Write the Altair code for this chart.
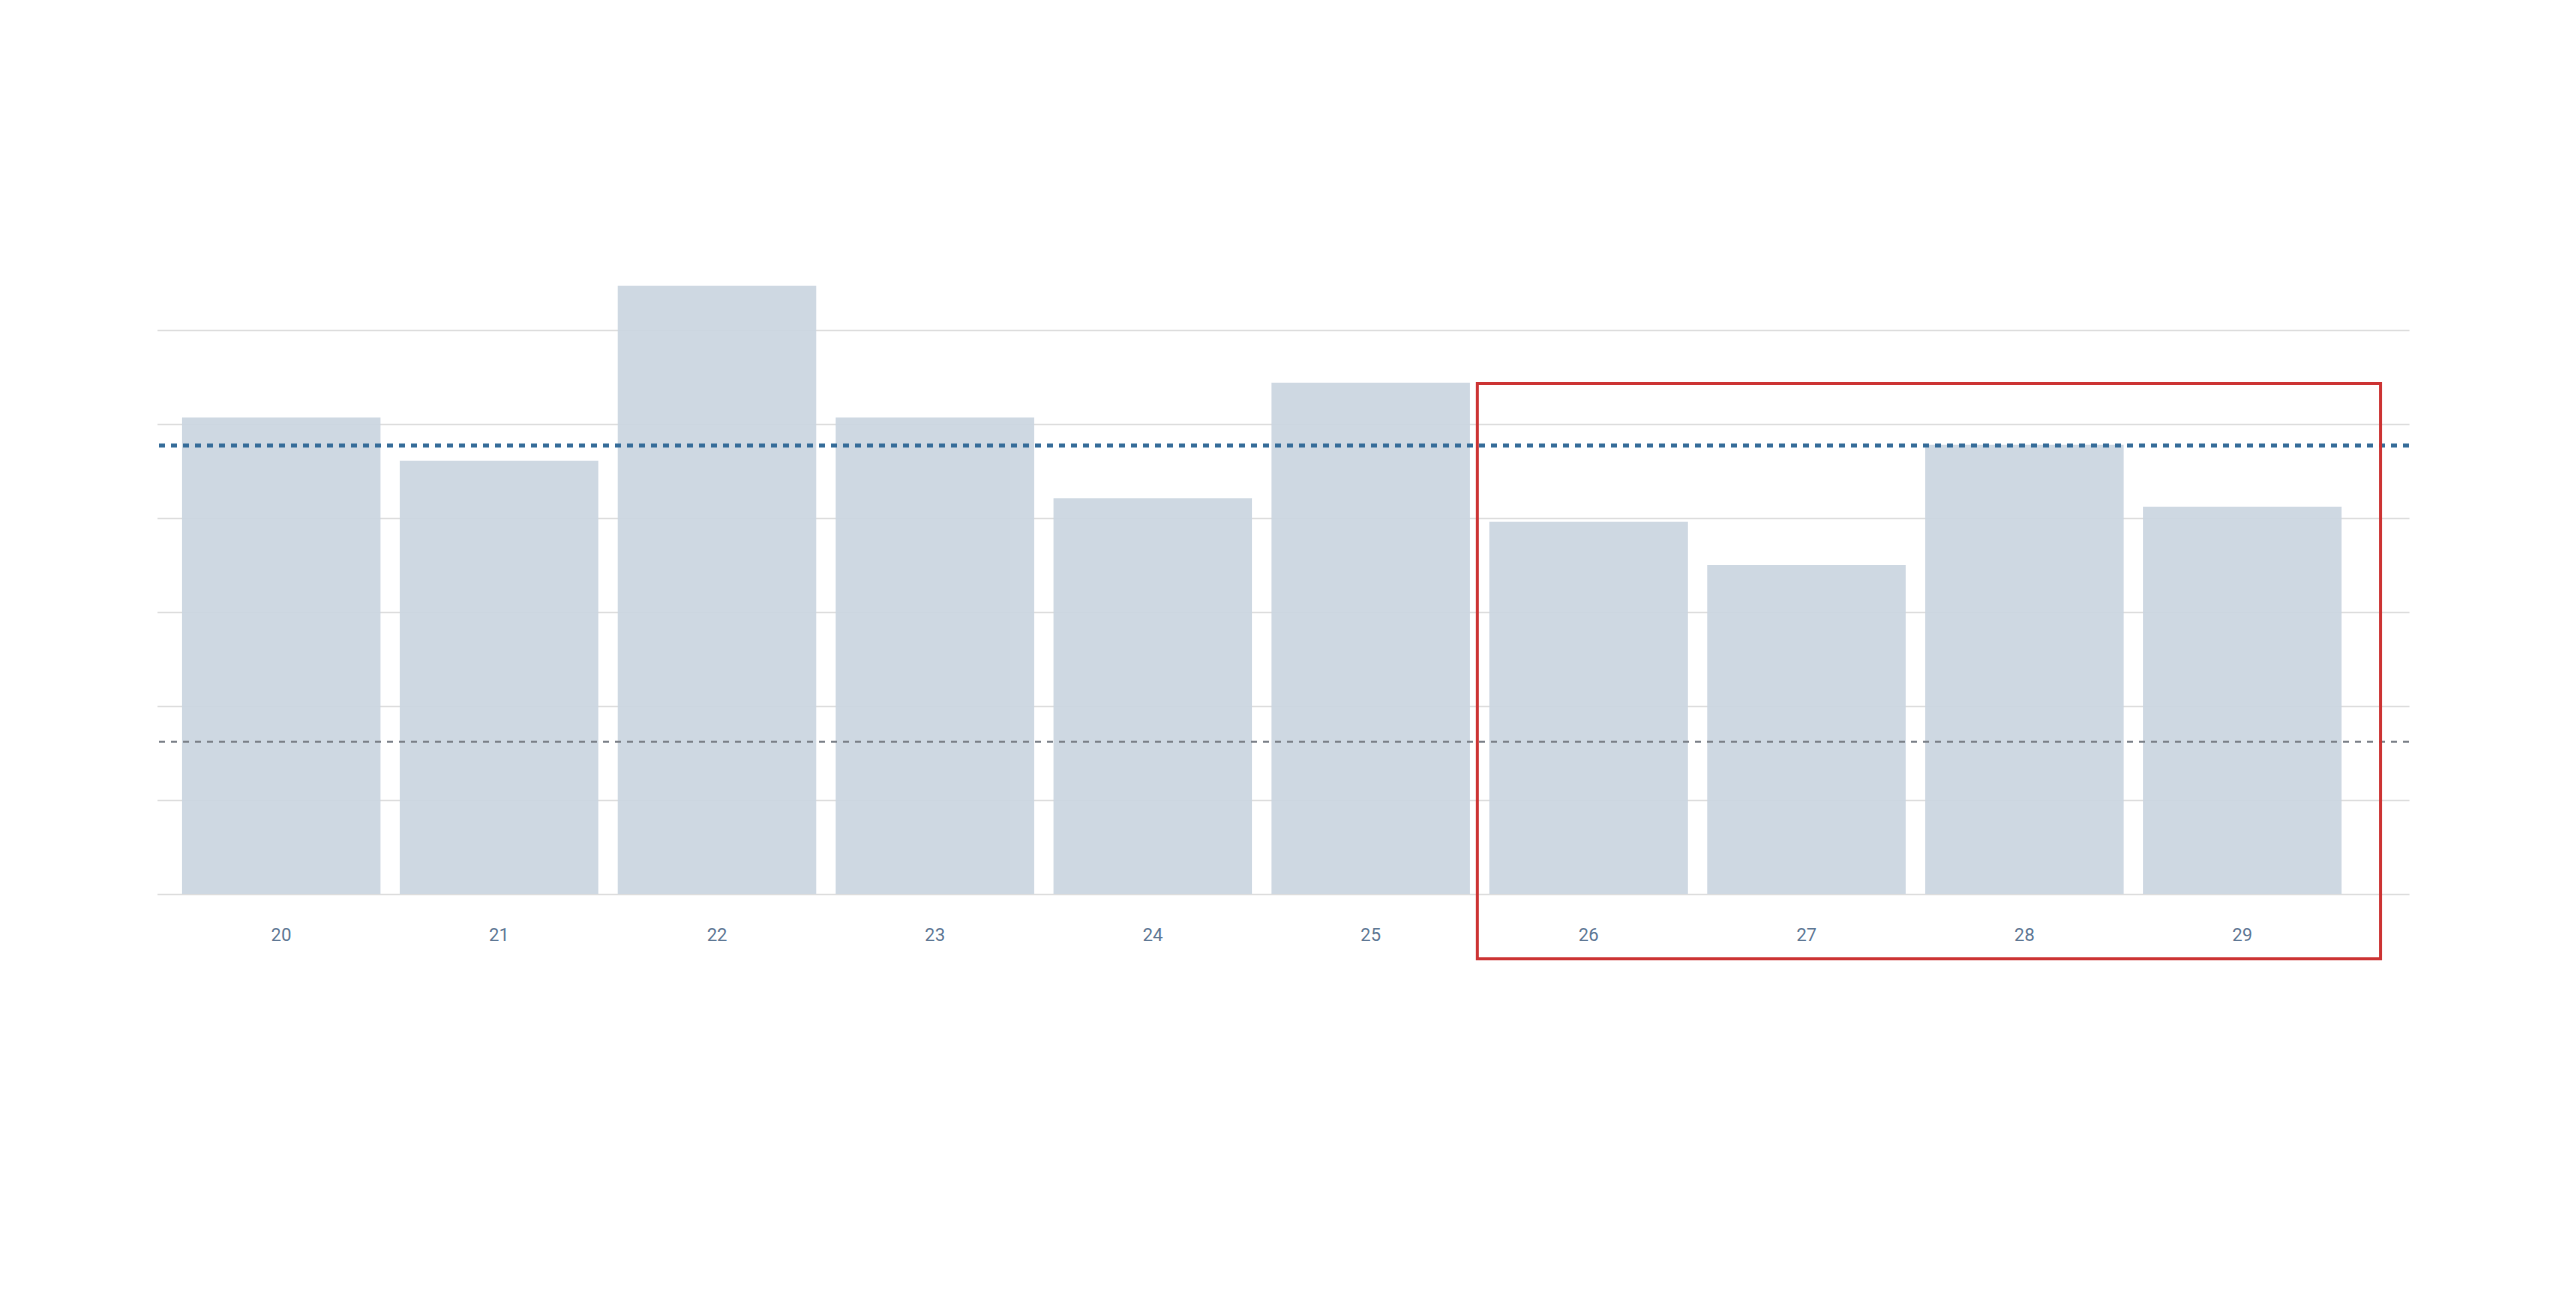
import altair as alt
import pandas as pd

# ---- data ----
categories = ["20", "21", "22", "23", "24", "25", "26", "27", "28", "29"]
values = [5.07, 4.61, 6.47, 5.07, 4.21, 5.44, 3.96, 3.50, 4.78, 4.12]
avg_line = [4.77]          # blue dotted reference line
low_line = [1.62]          # gray dashed reference line
grid_values = [0, 1, 2, 3, 4, 5, 6]
box_x_start = ["26"]
box_x_end = ["29"]
box_y_top = [5.43]
box_y_bottom = [-0.69]

bars_df = pd.DataFrame({"cat": categories, "val": values})
avg_df = pd.DataFrame({"v": avg_line})
low_df = pd.DataFrame({"v": low_line})
box_df = pd.DataFrame({"x0": box_x_start, "x1": box_x_end,
                       "y0": box_y_top, "y1": box_y_bottom})

W, H = 2252, 564

xscale = alt.Scale(domain=categories, paddingInner=0.089, paddingOuter=0.212, align=0.27)
yscale = alt.Scale(domain=[0, 6], nice=False, zero=True)

bars = alt.Chart(bars_df).mark_bar(color="#cad5e0", opacity=0.92).encode(
    x=alt.X("cat:N", scale=xscale, sort=categories,
            axis=alt.Axis(title=None, labelAngle=0, domain=False, ticks=False, tickSize=0,
                          labelPadding=32, labelFont="Roboto", labelFontSize=18,
                          labelColor="#5f7894", grid=False)),
    y=alt.Y("val:Q", scale=yscale,
            axis=alt.Axis(title=None, labels=False, ticks=False, domain=False,
                          values=grid_values, grid=True, gridColor="#dddddd",
                          gridWidth=1.5)),
)

low = alt.Chart(low_df).mark_rule(color="#7b8088", strokeWidth=2, strokeDash=[6, 6]).encode(
    y=alt.Y("v:Q", scale=yscale)
)

avg = alt.Chart(avg_df).mark_rule(color="#356c99", strokeWidth=4, strokeDash=[6, 6]).encode(
    y=alt.Y("v:Q", scale=yscale)
)

box = alt.Chart(box_df).mark_rect(filled=False, color="#cc3333", strokeWidth=3,
                                  xOffset=-12, x2Offset=39).encode(
    x=alt.X("x0:N", scale=xscale, bandPosition=0),
    x2=alt.X2("x1", bandPosition=1),
    y=alt.Y("y0:Q", scale=yscale),
    y2="y1",
)

chart = alt.layer(bars, low, avg, box).properties(
    width=W, height=H,
    autosize=alt.AutoSizeParams(type="none"),
    padding={"left": 149, "top": 322, "right": 140, "bottom": 400},
    background="#ffffff",
).configure_view(stroke=None)

chart.save("out.html", embed_options={"renderer": "svg", "actions": False})
